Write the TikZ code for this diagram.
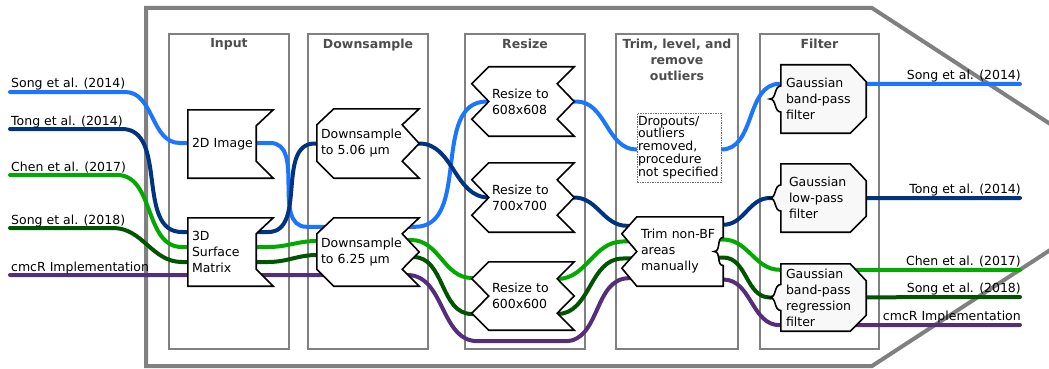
\documentclass[tikz,border=0pt]{standalone}
\usepackage{fontspec}
\setmainfont{DejaVu Sans}
\usetikzlibrary{calc}
\pgfdeclarelayer{bg}
\pgfdeclarelayer{lines}
\pgfdeclarelayer{boxes}
\pgfsetlayers{bg,lines,boxes,main}
\definecolor{cSongA}{HTML}{1A75FF}
\definecolor{cTong}{HTML}{003380}
\definecolor{cChen}{HTML}{00AA00}
\definecolor{cSongB}{HTML}{005500}
\definecolor{cCmcr}{HTML}{552D7A}
\definecolor{framegray}{HTML}{808080}
\definecolor{titlegray}{HTML}{4D4D4D}
\definecolor{filtfill}{HTML}{F8F8F8}
% outline shapes drawn from the corners of a named node
\newcommand\shpNotchR[1]{%
  \draw[outl] (#1.north west) -- (#1.north east) -- ($(#1.north east)+(-17,16)$)
    -- ($(#1.south east)+(-17,-17)$) -- (#1.south east) -- (#1.south west) -- cycle;}
\newcommand\shpDS[1]{%
  \draw[outl] ($(#1.north west)+(17,0)$) -- (#1.north east) -- ($(#1.north east)+(-17,16)$)
    -- (#1.east) -- ($(#1.south east)+(-17,-17)$) -- (#1.south east)
    -- ($(#1.south west)+(17,0)$) -- ($(#1.south west)+(0,-17)$) -- ($(#1.north west)+(0,16)$) -- cycle;}
\newcommand\shpRS[1]{%
  \draw[outl] (#1.north west) -- (#1.north east) -- ($(#1.north east)+(-17,17)$)
    -- (#1.east) -- ($(#1.south east)+(-17,-17)$) -- (#1.south east)
    -- (#1.south west) -- ($(#1.south west)+(-17,-17)$) -- (#1.west) -- ($(#1.north west)+(-17,17)$) -- cycle;}
\newcommand\shpTrim[1]{%
  \draw[outl] (#1.north west) -- (#1.north east) -- ($(#1.east)+(0,-14)$)
    .. controls ($(#1.east)+(-7,-14)$) and ($(#1.east)+(-2,0)$) .. ($(#1.east)+(-9,0)$)
    .. controls ($(#1.east)+(-2,0)$) and ($(#1.east)+(-7,14)$) .. ($(#1.east)+(0,14)$)
    -- (#1.south east) -- (#1.south west) -- ($(#1.south west)+(-15,-18)$) -- (#1.west)
    -- ($(#1.north west)+(-15,17)$) -- cycle;}
\newcommand\shpFilt[1]{%
  \draw[outl, fill=filtfill] (#1.north west) -- ($(#1.north east)+(-16,0)$) -- ($(#1.north east)+(0,17)$)
    -- ($(#1.south east)+(0,-16)$) -- ($(#1.south east)+(-16,0)$) -- (#1.south west)
    -- ($(#1.west)+(0,13)$)
    .. controls ($(#1.west)+(-7,13)$) and ($(#1.west)+(-4,0)$) .. ($(#1.west)+(-11,0)$)
    .. controls ($(#1.west)+(-4,0)$) and ($(#1.west)+(-7,-13)$) .. ($(#1.west)+(0,-13)$)
    -- cycle;}
\begin{document}
\begin{tikzpicture}[x=1pt,y=-1pt,
  font=\fontsize{12.5}{16}\selectfont,
  bx/.style={inner ysep=0pt, align=left, anchor=center},
  outl/.style={draw=black, line width=1.6pt, fill=white, line join=miter},
  colbox/.style={draw=framegray, line width=1.5pt, inner sep=0pt, minimum height=315pt},
  coltitle/.style={font=\fontsize{12.5}{16}\selectfont\bfseries, text=titlegray, align=center, anchor=north, inner sep=0pt},
  thread/.style={line width=4pt, line cap=round},
  llab/.style={anchor=base west, inner sep=0pt},
  rlab/.style={anchor=base east, inner sep=0pt},
  dropbox/.style={draw=black!55, line width=0.8pt, dash pattern=on 1.5pt off 1pt, fill=white, align=left, inner ysep=0pt}
]
\useasboundingbox (0,0) rectangle (1049,369);

% frame and columns
\begin{pgfonlayer}{bg}
\draw[draw=framegray, line width=4pt, line join=miter] (146,8) -- (872,8) -- (1147,187) -- (872,366) -- (146,366) -- cycle;
\node[colbox, minimum width=120pt] (cIn) at (229,191.5) {};
\node[colbox, minimum width=120pt] (cDs) at (368,191.5) {};
\node[colbox, minimum width=120pt] (cRs) at (525,191.5) {};
\node[colbox, minimum width=122pt] (cTr) at (677,191.5) {};
\node[colbox, minimum width=119pt] (cFi) at (819.5,191.5) {};
\end{pgfonlayer}

\node[coltitle] (tIn) at (229,38.5) {Input};
\node[coltitle] (tDs) at (368,38.5) {Downsample};
\node[coltitle] (tRs) at (525,38.5) {Resize};
\node[coltitle] (tTr) at (677,38.5) {Trim, level, and\\remove\\outliers};
\node[coltitle] (tFi) at (819.5,38.5) {Filter};

% boxes (text)
\node[bx, minimum height=68pt, inner xsep=4pt, text width=77pt] (img) at (230.5,144) {2D Image};
\node[bx, minimum height=68pt, inner xsep=4pt, text width=77pt] (surf) at (230.5,252) {3D\\Surface\\Matrix};
\node[bx, minimum height=69pt, inner xsep=4pt, text width=94pt] (ds1) at (368,143.5) {Downsample\\to 5.06 µm};
\node[bx, minimum height=68pt, inner xsep=4pt, text width=94pt] (ds2) at (368,252) {Downsample\\to 6.25 µm};
\node[bx, minimum height=69pt, inner xsep=3pt, text width=79pt] (r1) at (531.5,101.5) {Resize to\\608x608};
\node[bx, minimum height=69pt, inner xsep=3pt, text width=79pt] (r2) at (531.5,197.5) {Resize to\\700x700};
\node[bx, minimum height=68pt, inner xsep=3pt, text width=79pt] (r3) at (531.5,296) {Resize to\\600x600};
\node[dropbox, minimum height=69pt, inner xsep=1pt, text width=82pt, font=\fontsize{12.5}{12.8}\selectfont] (drop) at (679,147.5) {Dropouts/\\outliers\\removed,\\procedure\\not specified};
\node[bx, minimum height=69pt, inner xsep=4pt, text width=78pt] (trim) at (680,251.5) {Trim non-BF\\areas\\manually};
\node[bx, minimum height=68pt, inner xsep=5pt, text width=75pt] (f1) at (823.5,99) {Gaussian\\band-pass\\filter};
\node[bx, minimum height=68pt, inner xsep=8pt, text width=69pt] (f2) at (823.5,198) {Gaussian\\low-pass\\filter};
\node[bx, minimum height=67pt, inner xsep=5pt, text width=75pt] (f3) at (823.5,297.5) {Gaussian\\band-pass\\regression\\filter};

\begin{pgfonlayer}{boxes}
\shpNotchR{img}
\shpNotchR{surf}
\shpDS{ds1}
\shpDS{ds2}
\shpRS{r1}
\shpRS{r2}
\shpRS{r3}
\shpTrim{trim}
\shpFilt{f1}
\shpFilt{f2}
\shpFilt{f3}
\end{pgfonlayer}

% end points and labels
\coordinate (Ls1) at (10,92);
\coordinate (Lt) at (10,129);
\coordinate (Lc) at (10,175);
\coordinate (Lsb) at (10,228);
\coordinate (Lm) at (10,275);
\coordinate (Rs1) at (1020,84);
\coordinate (Rt) at (1020,198);
\coordinate (Rc) at (1020,270);
\coordinate (Rsb) at (1020,297);
\coordinate (Rm) at (1020,325);

\node[llab] (lS1) at (11,88) {Song et al. (2014)};
\node[llab] (lT) at (11,125) {Tong et al. (2014)};
\node[llab] (lC) at (11,171) {Chen et al. (2017)};
\node[llab] (lS2) at (11,224) {Song et al. (2018)};
\node[llab] (lM) at (11,271) {cmcR Implementation};
\node[rlab] (rS1) at (1021,79) {Song et al. (2014)};
\node[rlab] (rT) at (1021,193) {Tong et al. (2014)};
\node[rlab] (rC) at (1021,265) {Chen et al. (2017)};
\node[rlab] (rS2) at (1021,292) {Song et al. (2018)};
\node[rlab] (rM) at (1021,320) {cmcR Implementation};

\begin{pgfonlayer}{lines}
% Song et al. (2014)
\draw[thread, cSongA] (Ls1) -- ++(115,0) to[out=0,in=180] ($(img.west)+(-8,-1)$)
  -- ($(img.east)+(-3,-1)$) to[out=0,in=180] ($(ds2.north west)+(-10,9)$)
  -- ($(ds2.north east)+(-4,9)$) to[out=0,in=180] ($(r1.west)+(-2,0)$)
  -- ($(r1.east)+(2,0)$) to[out=0,in=180] ($(drop.west)+(0,2)$)
  -- ($(drop.east)+(0,2)$) to[out=0,in=180] ($(f1.north west)+(-1,19)$)
  -- (Rs1);
% Tong et al. (2014)
\draw[thread, cTong] (Lt) -- ++(112,0) to[out=0,in=180] ($(surf.west)+(-6,-20)$)
  -- ($(surf.east)+(-5,-20)$) to[out=0,in=180] ($(ds1.west)+(-2,0)$)
  -- (ds1.east) to[out=0,in=180] (r2.west)
  -- (r2.east) to[out=0,in=180] ($(trim.north west)+(-10,9)$)
  -- ($(trim.north east)+(0,8)$) to[out=0,in=180] ($(f2.west)+(-11,0)$)
  -- (Rt);
% Chen et al. (2017)
\draw[thread, cChen] (Lc) -- ++(107,0) to[out=0,in=180] ($(surf.west)+(-6,-5)$)
  -- ($(surf.east)+(-5,-5)$) to[out=0,in=180] ($(ds2.west)+(0,-11)$)
  -- ($(ds2.east)+(-8,-12)$) to[out=0,in=180] ($(r3.west)+(-17,-18)$)
  -- ($(r3.east)+(-17,-17)$) to[out=0,in=180] ($(trim.west)+(-14,-10)$)
  -- ($(trim.east)+(0,-12)$) to[out=0,in=180] ($(f3.north west)+(-1,6)$)
  -- (Rc);
% Song et al. (2018)
\draw[thread, cSongB] (Lsb) -- ++(103,0) to[out=0,in=180] ($(surf.west)+(-6,10)$)
  -- ($(surf.east)+(-5,10)$) to[out=0,in=180] ($(ds2.west)+(0,3)$)
  -- ($(ds2.east)+(-6,5)$) to[out=0,in=180] ($(r3.west)+(-17,18)$)
  -- ($(r3.east)+(-17,18)$) to[out=0,in=180] ($(trim.west)+(-14,7)$)
  -- ($(trim.east)+(0,6)$) to[out=0,in=180] ($(f3.west)+(-11,0)$)
  -- (Rsb);
% cmcR Implementation
\draw[thread, cCmcr] (Lm) -- ($(ds2.east)+(-12,23)$) to[out=0,in=180] ($(r3.south west)+(-11,11)$)
  -- ($(r3.south east)+(-9,11)$) to[out=0,in=180] ($(trim.south west)+(-8,-8)$)
  -- ($(trim.east)+(0,28)$) to[out=0,in=180] ($(f3.south west)+(-1,-6)$)
  -- (Rm);
\end{pgfonlayer}
\end{tikzpicture}
\end{document}
